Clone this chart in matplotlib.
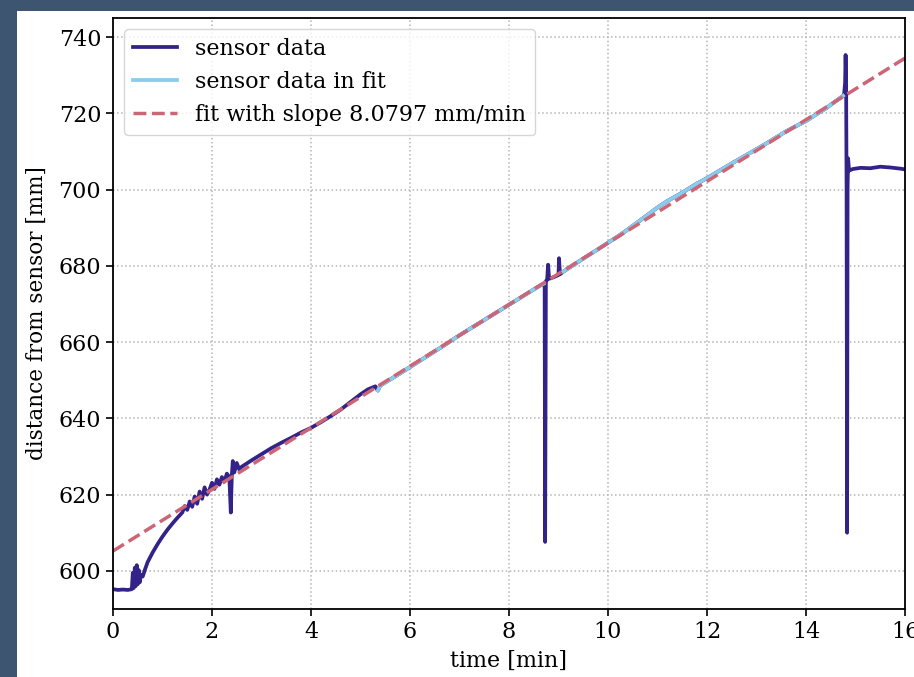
import numpy as np
import matplotlib
matplotlib.use('Agg')
import matplotlib.pyplot as plt
from matplotlib.patches import Rectangle

plt.rcParams['font.family'] = 'DejaVu Serif'

# sensor readings: time [min], distance [mm]
sensor_t = [0.00, 0.10, 0.20, 0.30, 0.38, 0.40, 0.42, 0.44, 0.46, 0.48, 0.50, 0.52, 0.54, 0.56,
            0.60, 0.65, 0.70, 0.80, 0.90, 1.00, 1.10, 1.20, 1.30, 1.40, 1.45, 1.50, 1.55, 1.60,
            1.65, 1.70, 1.75, 1.80, 1.85, 1.90, 1.95, 2.00, 2.05, 2.10, 2.15, 2.20, 2.25, 2.30,
            2.35, 2.38, 2.40, 2.42, 2.45, 2.50, 2.55, 2.60, 2.80, 3.00, 3.20, 3.40, 3.60, 3.80,
            4.00, 4.20, 4.40, 4.60, 4.80, 5.00, 5.15, 5.30, 5.35,
            5.40, 5.80, 6.20, 6.60, 7.00, 7.40, 7.80, 8.20, 8.60, 8.70,
            8.72, 8.73, 8.745, 8.77, 8.79, 8.81, 8.85, 8.90, 8.95, 9.00, 9.01, 9.03,
            9.10, 9.50, 9.90, 10.30, 10.70, 11.00, 11.20, 11.50, 11.80, 12.00, 12.40, 12.80,
            13.20, 13.60, 14.00, 14.40, 14.75,
            14.77, 14.79, 14.80, 14.81, 14.82, 14.83, 14.84, 14.85, 14.87, 14.95, 15.10, 15.30,
            15.50, 15.70, 15.90, 16.00]
sensor_y = [595.2, 595.0, 595.1, 595.0, 595.2, 599.5, 595.5, 600.8, 596.0, 601.5, 596.5, 600.2, 597.0, 599.0,
            598.5, 600.5, 602.3, 604.8, 607.0, 609.0, 610.8, 612.4, 613.9, 615.3, 617.0, 616.0, 618.2, 616.8,
            619.5, 617.6, 620.8, 618.9, 621.9, 620.0, 621.3, 623.1, 621.5, 624.0, 622.6, 624.6, 623.4, 625.5,
            624.6, 615.3, 625.0, 628.8, 625.8, 628.3, 626.6, 627.3, 629.0, 630.6, 632.2, 633.6, 634.9, 636.3,
            637.5, 639.0, 640.6, 642.3, 644.3, 646.3, 647.6, 648.4, 647.3,
            648.6, 651.8, 655.1, 658.4, 661.8, 665.0, 668.2, 671.4, 674.6, 675.3,
            675.5, 607.6, 676.0, 676.3, 680.3, 676.6, 676.8, 677.0, 677.3, 677.6, 682.0, 677.8,
            678.5, 681.9, 685.2, 688.6, 692.4, 695.3, 697.0, 699.2, 701.6, 703.0, 706.1, 709.1,
            712.1, 715.3, 718.0, 721.3, 724.6,
            725.0, 728.0, 735.3, 729.0, 700.0, 610.0, 700.0, 708.2, 705.0, 705.4, 705.7, 705.6,
            706.0, 705.8, 705.5, 705.3]

# time windows used for the fit
fit_windows = [(5.35, 8.70), (9.10, 14.75)]
fit_slope = 8.0797
fit_intercept = 605.2

t = np.array(sensor_t)
y = np.array(sensor_y)

fig = plt.figure(figsize=(9.14, 6.77), dpi=100, facecolor='#3e5572')
fig.patches.append(Rectangle((17 / 914, 0), 1, 666 / 677, transform=fig.transFigure,
                             facecolor='white', edgecolor='none', zorder=-10))
ax = fig.add_axes([113 / 914, 68 / 677, 792 / 914, 591 / 677])

ax.plot(t, y, color='#332288', lw=2.7, label='sensor data')
for i, (a, b) in enumerate(fit_windows):
    m = (t >= a) & (t <= b)
    ax.plot(t[m], y[m], color='#88CCEE', lw=2.7, label='sensor data in fit' if i == 0 else None)
xf = np.array([0, 16])
ax.plot(xf, fit_intercept + fit_slope * xf, '--', color='#CC6677', lw=2.5,
        label='fit with slope %.4f mm/min' % fit_slope)

ax.set_xlim(0, 16)
ax.set_ylim(590, 745)
ax.set_xticks(range(0, 17, 2))
ax.set_yticks(range(600, 741, 20))
ax.tick_params(labelsize=16, length=5, width=1.2)
for s in ax.spines.values():
    s.set_linewidth(1.3)
ax.grid(True, linestyle=':', color='#b5b5b5', lw=1.1)
ax.set_xlabel('time [min]', fontsize=16, labelpad=5)
ax.set_ylabel('distance from sensor [mm]', fontsize=15.5, labelpad=8)
ax.legend(loc='upper left', fontsize=16, handlelength=2.0)

fig.savefig('out.png', dpi=100, facecolor=fig.get_facecolor())
